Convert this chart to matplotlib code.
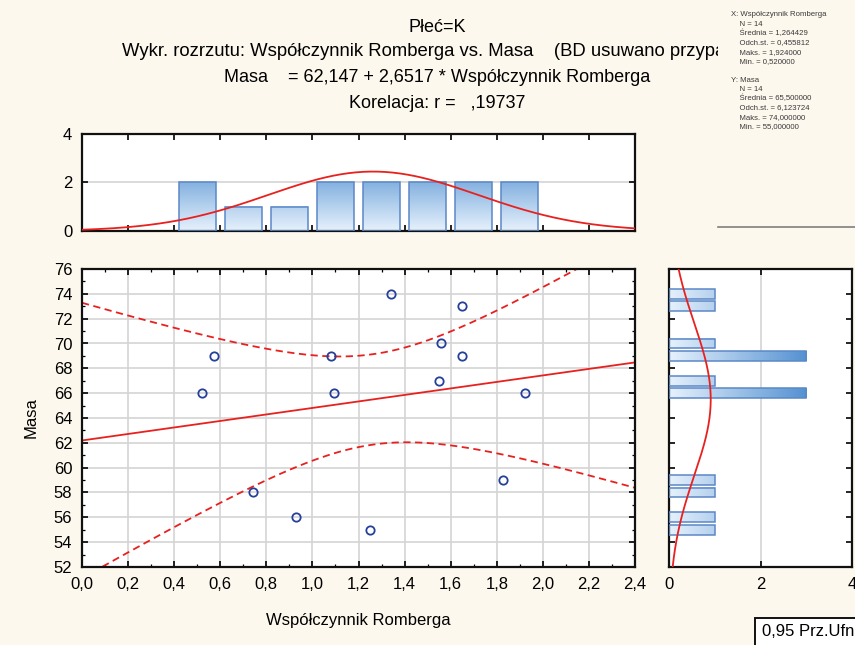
import numpy as np
import matplotlib
matplotlib.use('Agg')
import matplotlib.pyplot as plt
from matplotlib.ticker import MultipleLocator, FuncFormatter
from matplotlib.transforms import Bbox, TransformedBbox
from matplotlib.colors import LinearSegmentedColormap

# data
romberg = [0.52, 0.575, 0.74, 0.93, 1.08, 1.095, 1.25, 1.34, 1.55, 1.56, 1.65, 1.65, 1.825, 1.924]
masa = [66, 69, 58, 56, 69, 66, 55, 74, 67, 70, 73, 69, 59, 66]

title_lines = [
    "Płeć=K",
    "Wykr. rozrzutu: Współczynnik Romberga vs. Masa    (BD usuwano przypa",
    "Masa    = 62,147 + 2,6517 * Współczynnik Romberga",
    "Korelacja: r =   ,19737",
]
stats_lines = [
    "X: Współczynnik Romberga",
    "    N = 14",
    "    Średnia = 1,264429",
    "    Odch.st. = 0,455812",
    "    Maks. = 1,924000",
    "    Min. = 0,520000",
    "",
    "Y: Masa",
    "    N = 14",
    "    Średnia = 65,500000",
    "    Odch.st. = 6,123724",
    "    Maks. = 74,000000",
    "    Min. = 55,000000",
]
t_crit = 2.179  # t(0.975, 12)

plt.rcParams['font.family'] = ['Liberation Sans', 'DejaVu Sans']
plt.rcParams['font.size'] = 12

BG = '#fdf8ed'
RED = '#e8211f'
BLUE = '#25409a'
EDGE = '#5a88c8'
cmap = LinearSegmentedColormap.from_list('bars', ['#e6f1fc', '#5592d2'])

x = np.array(romberg)
y = np.array(masa, dtype=float)
n = len(x)

W, H = 855, 645
fig = plt.figure(figsize=(W / 100, H / 100), dpi=100, facecolor=BG)


def fig_rect(x0, y0, x1, y1):
    return [x0 / W, 1 - y1 / H, (x1 - x0) / W, (y1 - y0) / H]


ax = fig.add_axes(fig_rect(82, 269, 635, 567))
axt = fig.add_axes(fig_rect(82, 134, 635, 231))
axr = fig.add_axes(fig_rect(669, 269, 852, 567))

comma = FuncFormatter(lambda v, p: f"{v:.1f}".replace('.', ','))
intfmt = FuncFormatter(lambda v, p: f"{v:.0f}")


def style(a):
    a.set_facecolor('white')
    for s in a.spines.values():
        s.set_linewidth(1.6)
        s.set_color('#111111')
    a.tick_params(which='major', direction='in', length=4, width=1.2,
                  top=True, right=True, labelsize=12, pad=7)
    a.tick_params(which='minor', direction='in', length=2, width=0.9,
                  top=True, right=True)


# ---- main scatter
style(ax)
ax.set_xlim(0, 2.4)
ax.set_ylim(52, 76)
ax.xaxis.set_major_locator(MultipleLocator(0.2))
ax.xaxis.set_minor_locator(MultipleLocator(0.1))
ax.yaxis.set_major_locator(MultipleLocator(2))
ax.yaxis.set_minor_locator(MultipleLocator(1))
ax.xaxis.set_major_formatter(comma)
ax.yaxis.set_major_formatter(intfmt)
ax.grid(True, which='major', color='#d4d4d4', linewidth=1.2)
ax.set_axisbelow(True)

b, a0 = np.polyfit(x, y, 1)
xs = np.linspace(0, 2.4, 300)
yhat = a0 + b * xs
resid = y - (a0 + b * x)
s = np.sqrt(np.sum(resid ** 2) / (n - 2))
sxx = np.sum((x - x.mean()) ** 2)
half = t_crit * s * np.sqrt(1 / n + (xs - x.mean()) ** 2 / sxx)
ax.plot(xs, yhat, color=RED, lw=1.3)
ax.plot(xs, yhat + half, color=RED, lw=1.3, ls=(0, (4, 2.5)))
ax.plot(xs, yhat - half, color=RED, lw=1.3, ls=(0, (4, 2.5)))
ax.plot(x, y, 'o', mfc='none', mec=BLUE, ms=6, mew=1.3, zorder=5)
ax.set_xlabel('Współczynnik Romberga', fontsize=12, labelpad=15)
ax.set_ylabel('Masa', fontsize=12, labelpad=11)


def grad_bar(a, x0, x1, y0, y1, horizontal):
    if horizontal:
        img = np.linspace(x0, x1, 64).reshape(1, -1)
    else:
        img = np.linspace(y0, y1, 64).reshape(-1, 1)
    a.imshow(img, extent=[x0, x1, y0, y1], origin='lower', aspect='auto',
             cmap=cmap, vmin=0, vmax=3, zorder=2, interpolation='bilinear')
    a.add_patch(plt.Rectangle((x0, y0), x1 - x0, y1 - y0, fill=False,
                              ec=EDGE, lw=1.1, zorder=3))


# ---- top histogram
style(axt)
cnt, edges = np.histogram(x, bins=np.arange(0.4, 2.01, 0.2))
for c, e0, e1 in zip(cnt, edges[:-1], edges[1:]):
    if c > 0:
        pad = (e1 - e0) * 0.1
        grad_bar(axt, e0 + pad, e1 - pad, 0, c, False)
xt = np.linspace(0, 2.4, 300)
sdx = x.std(ddof=1)
axt.plot(xt, n * 0.2 * np.exp(-0.5 * ((xt - x.mean()) / sdx) ** 2) / (sdx * np.sqrt(2 * np.pi)),
         color=RED, lw=1.3, zorder=4)
axt.set_xlim(0, 2.4)
axt.set_ylim(0, 4)
axt.xaxis.set_major_locator(MultipleLocator(0.2))
axt.yaxis.set_major_locator(MultipleLocator(2))
axt.yaxis.set_major_formatter(intfmt)
axt.tick_params(labelbottom=False)
axt.grid(True, axis='y', color='#d4d4d4', linewidth=1.2)
axt.set_axisbelow(True)

# ---- right histogram
style(axr)
cnt_r, edges_r = np.histogram(y, bins=np.arange(51.5, 77, 1))
for c, e0, e1 in zip(cnt_r, edges_r[:-1], edges_r[1:]):
    if c > 0:
        grad_bar(axr, 0, c, e0 + 0.1, e1 - 0.1, True)
yr = np.linspace(52, 76, 300)
sdy = y.std(ddof=1)
axr.plot(n * 1.0 * np.exp(-0.5 * ((yr - y.mean()) / sdy) ** 2) / (sdy * np.sqrt(2 * np.pi)), yr,
         color=RED, lw=1.3, zorder=4)
axr.set_xlim(0, 4)
axr.set_ylim(52, 76)
axr.xaxis.set_major_locator(MultipleLocator(2))
axr.yaxis.set_major_locator(MultipleLocator(2))
axr.xaxis.set_major_formatter(intfmt)
axr.tick_params(labelleft=False)
axr.grid(True, axis='x', color='#d4d4d4', linewidth=1.2)
axr.set_axisbelow(True)

# ---- titles (second line is cut at the stats panel, as in the source)
clip = TransformedBbox(Bbox([[0, 0], [718 / W, 1]]), fig.transFigure)
for i, (line, yy) in enumerate(zip(title_lines, [27, 51, 77, 103])):
    if i == 1:
        t = fig.text(122 / W, 1 - yy / H, line, ha='left', va='center', fontsize=13.3)
        t.set_clip_box(clip)
        t.set_clip_on(True)
    else:
        fig.text(437 / W, 1 - yy / H, line, ha='center', va='center', fontsize=13)

# stats panel
for i, line in enumerate(stats_lines):
    fig.text(731 / W, 1 - (15 + i * 9.3) / H, line, ha='left', va='center',
             fontsize=5.6, color='#3a3a3a')

fig.add_artist(plt.Line2D([718 / W, 1], [1 - 227 / H, 1 - 227 / H],
                          transform=fig.transFigure, color='#7f7f7f', lw=1.2))

# legend box (cut by the image edge)
fig.add_artist(plt.Rectangle((755 / W, 1 - 660 / H), 120 / W, 42 / H,
                             transform=fig.transFigure, fc='white', ec='#111111', lw=1.4))
fig.text(762 / W, 1 - 632 / H, '0,95 Prz.Ufn.', ha='left', va='center', fontsize=12)

fig.savefig('out.png', dpi=100, facecolor=BG)
